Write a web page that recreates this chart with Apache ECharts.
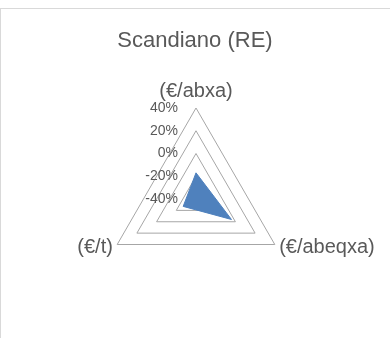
<!DOCTYPE html>
<html>
<head>
<meta charset="utf-8">
<script src="https://cdn.jsdelivr.net/npm/echarts@6/dist/echarts.min.js"></script>
<style>
  html, body { margin: 0; padding: 0; background: #fff; }
  #frame { position: absolute; left: 0; top: 8px; width: 390px; height: 330px;
           border-top: 1px solid #d9d9d9; border-left: 1px solid #d9d9d9; box-sizing: border-box; }
  #chart { position: absolute; left: 0; top: 0; width: 390px; height: 338px; }
</style>
</head>
<body>
<div id="frame"></div>
<div id="chart"></div>
<script>
// Indicators (ECharts places them counter-clockwise from the top)
const indicatorNames = ['(€/abxa)', '(€/t)', '(€/abeqxa)'];
// Percentage change per indicator
const seriesValues = [-17, -27, -4];
// Value scale of the radar
const scaleMin = -40;
const scaleMax = 40;
const scaleSteps = 4;

const chart = echarts.init(document.getElementById('chart'), null, { renderer: 'canvas' });

const indicator = indicatorNames.map((name, i) => {
  const ind = { name: name, min: scaleMin, max: scaleMax };
  if (i === 0) {
    ind.axisLabel = { show: true };
  }
  return ind;
});

chart.setOption({
  animation: false,
  title: {
    text: 'Scandiano (RE)',
    left: 'center',
    top: 25,
    textStyle: { fontFamily: 'Liberation Sans', fontSize: 22, fontWeight: 'normal', color: '#595959' }
  },
  radar: {
    center: [196, 199],
    radius: 91,
    startAngle: 90,
    shape: 'polygon',
    splitNumber: scaleSteps,
    nameGap: 5,
    axisName: { fontFamily: 'Liberation Sans', fontSize: 20, color: '#595959' },
    axisLine: { show: false },
    axisTick: { show: false },
    axisLabel: {
      show: false,
      fontFamily: 'Liberation Sans',
      fontSize: 14,
      color: '#595959',
      margin: 18,
      padding: [8, 0, 0, 0],
      formatter: v => v + '%'
    },
    splitLine: { lineStyle: { color: '#a6a6a6', width: 1 } },
    splitArea: { show: false },
    indicator: indicator
  },
  series: [{
    type: 'radar',
    symbol: 'none',
    lineStyle: { color: '#4f81bd', width: 1 },
    areaStyle: { color: '#4f81bd', opacity: 1 },
    data: [{ value: seriesValues }]
  }]
});
</script>
</body>
</html>
